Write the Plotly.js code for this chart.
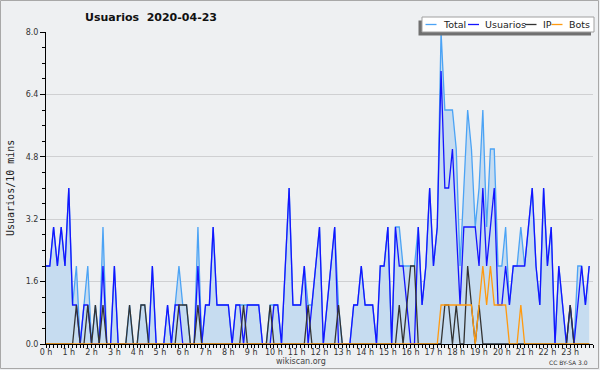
<!DOCTYPE html>
<html>
<head>
<meta charset="utf-8">
<script src="https://cdn.plot.ly/plotly-3.0.1.min.js"></script>
<style>
  html, body { margin: 0; padding: 0; background: #ffffff; }
  #chart { width: 600px; height: 370px; }
</style>
</head>
<body>
<div id="chart"></div>
<script>
// 10-minute slots of 2020-04-23 (6 per hour, 144 total), one row per hour
const total = [
  2,2,3,2,3,2,   4,1,2,0,1,2,   0,1,0,3,0,0,   2,0,0,0,1,0,
  0,1,1,0,2,0,   0,0,1,0,1,2,   1,1,0,0,3,0,   1,1,3,1,1,1,
  1,0,1,1,1,1,   1,1,1,0,0,1,   1,1,0,2,4,1,   1,1,2,1,1,2,
  3,0,1,2,3,1,   0,0,0,1,1,2,   1,1,1,0,2,2,   3,0,3,3,2,2,
  2,2,3,1,2,4,   2,3,8,6,6,6,   5,2,4,6,5,3,   4,6,3,5,5,2,
  2,3,1,2,2,3,   2,3,4,2,1,4,   2,3,0,2,1,0,   1,0,2,2,1,2
];
const usuarios = [
  2,2,3,2,3,2,   4,1,1,0,1,1,   0,0,0,2,0,0,   2,0,0,0,0,0,
  0,0,0,0,2,0,   0,0,1,0,1,1,   0,0,0,0,2,0,   1,1,3,1,1,1,
  1,0,1,1,0,1,   1,1,1,0,0,0,   1,1,0,2,4,1,   1,1,2,0,1,2,
  3,0,1,2,3,0,   0,0,0,1,1,2,   1,1,1,0,2,2,   3,0,3,2,2,1,
  0,0,3,1,2,4,   2,3,7,4,4,5,   3,1,3,3,3,3,   2,4,2,3,4,1,
  1,2,1,2,2,2,   2,3,4,2,1,4,   2,3,0,2,1,0,   1,0,1,2,1,2
];
const ip = [
  0,0,0,0,0,0,   0,0,1,0,0,1,   0,1,0,1,0,0,   0,0,0,0,1,0,
  0,1,1,0,0,0,   0,0,0,0,0,1,   1,1,0,0,1,0,   0,0,0,0,0,0,
  0,0,0,0,1,0,   0,0,0,0,0,1,   0,0,0,0,0,0,   0,0,0,1,0,0,
  0,0,0,0,0,1,   0,0,0,0,0,0,   0,0,0,0,0,0,   0,0,0,1,0,1,
  2,2,0,0,0,0,   0,0,0,1,1,0,   1,0,0,2,1,0,   1,0,0,0,0,0,
  0,0,0,0,0,0,   0,0,0,0,0,0,   0,0,0,0,0,0,   1,0,0,0,0,0
];
const bots = [
  0,0,0,0,0,0,   0,0,0,0,0,0,   0,0,0,0,0,0,   0,0,0,0,0,0,
  0,0,0,0,0,0,   0,0,0,0,0,0,   0,0,0,0,0,0,   0,0,0,0,0,0,
  0,0,0,0,0,0,   0,0,0,0,0,0,   0,0,0,0,0,0,   0,0,0,0,0,0,
  0,0,0,0,0,0,   0,0,0,0,0,0,   0,0,0,0,0,0,   0,0,0,0,0,0,
  0,0,0,0,0,0,   0,0,1,1,1,1,   1,1,1,1,1,0,   1,2,1,2,1,1,
  1,1,0,0,0,1,   0,0,0,0,0,0,   0,0,0,0,0,0,   0,0,0,0,0,0
];
const hourTicks = [0,1,2,3,4,5,6,7,8,9,10,11,12,13,14,15,16,17,18,19,20,21,22,23];
const hourLabels = ['0 h','1 h','2 h','3 h','4 h','5 h','6 h','7 h','8 h','9 h','10 h','11 h',
                    '12 h','13 h','14 h','15 h','16 h','17 h','18 h','19 h','20 h','21 h','22 h','23 h'];
const seriesNames = ['Total', 'Usuarios', 'IP', 'Bots'];
const seriesColors = ['#4ba3f5', '#1414ff', '#333333', '#ff9a10'];
const yTicks = [0, 1.6, 3.2, 4.8, 6.4, 8.0];

// time of each slot in hours (slot index / 6)
const hours = total.map((_, i) => i / 6);

// plot area in pixels
const L = 46, R = 593, T = 32, B = 344;
const W = R - L, H = B - T;
const px = x => (x - L) / W;
const py = y => (B - y) / H;

const lineW = 1.3;
const traces = [
  { x: hours, y: total, name: seriesNames[0], type: 'scatter', mode: 'lines',
    line: { color: seriesColors[0], width: lineW }, fill: 'tozeroy', fillcolor: '#c6dcf0' },
  { x: hours, y: usuarios, name: seriesNames[1], type: 'scatter', mode: 'lines',
    line: { color: seriesColors[1], width: lineW } },
  { x: hours, y: ip, name: seriesNames[2], type: 'scatter', mode: 'lines',
    line: { color: seriesColors[2], width: lineW } },
  { x: hours, y: bots, name: seriesNames[3], type: 'scatter', mode: 'lines',
    line: { color: seriesColors[3], width: lineW } }
];

const font = 'DejaVu Sans, Verdana, sans-serif';

// custom legend (box with drop shadow, short line samples)
const legendItems = [
  { x0: 425.5, x1: 436.5, tx: 441.5 },
  { x0: 468, x1: 479, tx: 483.5 },
  { x0: 525, x1: 536.5, tx: 541.5 },
  { x0: 551.5, x1: 562.5, tx: 567.5 }
];
const legendY = 24.5;

const shapes = [
  // outer frame
  { type: 'rect', xref: 'paper', yref: 'paper', layer: 'below',
    x0: px(0.5), x1: px(598.5), y0: py(368.5), y1: py(0.5),
    line: { color: '#a8a8a8', width: 1 }, fillcolor: 'rgba(0,0,0,0)' },
  // legend shadow
  { type: 'rect', xref: 'paper', yref: 'paper', layer: 'above',
    x0: px(418.5), x1: px(591), y0: py(35.5), y1: py(20.5),
    line: { width: 0 }, fillcolor: '#707070' },
  // legend box
  { type: 'rect', xref: 'paper', yref: 'paper', layer: 'above',
    x0: px(422), x1: px(594), y0: py(32), y1: py(17),
    line: { color: '#a0a0a0', width: 1 }, fillcolor: '#ffffff' }
];
legendItems.forEach((it, k) => {
  shapes.push({ type: 'line', xref: 'paper', yref: 'paper', layer: 'above',
    x0: px(it.x0), x1: px(it.x1), y0: py(legendY), y1: py(legendY),
    line: { color: seriesColors[k], width: 1.3 } });
});

const annotations = legendItems.map((it, k) => ({
  text: seriesNames[k], xref: 'paper', yref: 'paper',
  x: px(it.tx), y: py(legendY), xanchor: 'left', yanchor: 'middle',
  showarrow: false, borderpad: 0,
  font: { family: font, size: 9.5, color: '#222' }
}));
annotations.push(
  { text: 'Usuarios/10 mins', xref: 'paper', yref: 'paper',
    x: px(10), y: py(188), xanchor: 'center', yanchor: 'middle', textangle: -90,
    showarrow: false, borderpad: 0,
    font: { family: 'DejaVu Sans Mono, monospace', size: 10, color: '#222' } },
  { text: 'wikiscan.org', xref: 'paper', yref: 'paper',
    x: px(300.5), y: py(361.5), xanchor: 'center', yanchor: 'middle',
    showarrow: false, borderpad: 0,
    font: { family: font, size: 8, color: '#444' } },
  { text: 'CC BY-SA 3.0', xref: 'paper', yref: 'paper',
    x: px(589), y: py(362), xanchor: 'right', yanchor: 'middle',
    showarrow: false, borderpad: 0,
    font: { family: font, size: 6, color: '#333' } }
);

const layout = {
  width: 600, height: 370,
  margin: { l: L, r: 600 - R, t: T, b: 370 - B, pad: 0 },
  paper_bgcolor: '#eef0f2',
  plot_bgcolor: '#eef0f2',
  showlegend: false,
  title: {
    text: '<b>Usuarios\u00a0\u00a02020-04-23</b>',
    xref: 'paper', x: px(151), xanchor: 'center',
    yref: 'container', y: 1 - 17.5 / 370, yanchor: 'middle',
    font: { family: font, size: 11, color: '#111' }
  },
  xaxis: {
    range: [0, 24], fixedrange: true,
    tickmode: 'array', tickvals: hourTicks, ticktext: hourLabels,
    ticks: 'outside', ticklen: 3, tickwidth: 1, tickcolor: '#000',
    ticklabelstandoff: -3,
    minor: { tickmode: 'linear', tick0: 0, dtick: 1 / 6, ticks: 'outside', ticklen: 3, tickwidth: 1, tickcolor: '#000', showgrid: false },
    showline: true, linecolor: '#000', linewidth: 1,
    showgrid: false, zeroline: false,
    tickfont: { family: font, size: 8, color: '#333' }
  },
  yaxis: {
    range: [0, 8], fixedrange: true,
    tickmode: 'array', tickvals: yTicks, ticktext: yTicks.map(v => v.toFixed(1)),
    ticks: 'outside', ticklen: 5, tickwidth: 1, tickcolor: '#000',
    minor: { tickmode: 'linear', tick0: 0, dtick: 0.4, ticks: 'outside', ticklen: 3, tickwidth: 1, tickcolor: '#000', showgrid: false },
    showline: true, linecolor: '#000', linewidth: 1,
    showgrid: true, gridcolor: '#cfd0d2', gridwidth: 1, zeroline: false,
    tickfont: { family: font, size: 8, color: '#333' }
  },
  shapes: shapes,
  annotations: annotations
};

Plotly.newPlot('chart', traces, layout, { staticPlot: true, displayModeBar: false });
</script>
</body>
</html>
